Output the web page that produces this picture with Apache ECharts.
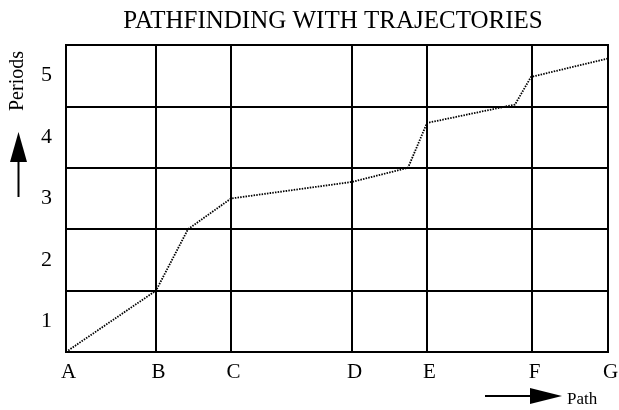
<!DOCTYPE html>
<html>
<head>
<meta charset="utf-8">
<script src="https://cdn.jsdelivr.net/npm/echarts@6/dist/echarts.min.js"></script>
<style>
  html, body { margin: 0; padding: 0; background: #fff; }
  #main { width: 619px; height: 410px; }
</style>
</head>
<body>
<div id="main"></div>
<script>
// path stations along the x axis (distance units)
const pathNames = ['A', 'B', 'C', 'D', 'E', 'F', 'G'];
const pathPos = [0, 90, 165, 286, 361, 466, 542];
const periodLabels = ['1', '2', '3', '4', '5'];
const periodCenters = [0.5, 1.5, 2.5, 3.5, 4.5];

// the dotted trajectory
const trajX = [0, 90, 122, 165, 286, 342, 361, 449, 465, 542];
const trajY = [0, 1.0, 2.0, 2.5, 2.77, 3.0, 3.73, 4.03, 4.48, 4.78];

const serif = "'Liberation Serif', 'Times New Roman', serif";

let chart = echarts.init(document.getElementById('main'));

const option = {
    animation: false,
    title: {
        text: 'PATHFINDING WITH TRAJECTORIES',
        left: 328,
        top: 4,
        textAlign: 'center',
        textStyle: {
            fontFamily: serif,
            fontWeight: 'normal',
            fontSize: 25,
            color: '#000'
        }
    },
    grid: {
        left: 66,
        top: 45,
        right: 11,
        bottom: 58,
        outerBoundsMode: 'none',
        show: true,
        borderColor: '#000',
        borderWidth: 2
    },
    xAxis: {
        type: 'value',
        min: 0,
        max: 542,
        axisLine: { show: false },
        axisTick: { show: false, customValues: pathPos },
        splitLine: { show: true, lineStyle: { color: '#000', width: 2 } },
        axisLabel: {
            customValues: pathPos,
            formatter: function (v) {
                return pathNames[pathPos.indexOf(v)];
            },
            margin: 10,
            padding: [0, 0, 0, 5],
            fontFamily: serif,
            fontSize: 21,
            color: '#000'
        }
    },
    yAxis: {
        type: 'value',
        min: 0,
        max: 5,
        interval: 1,
        axisLine: { show: false },
        axisTick: { show: false },
        splitLine: { show: true, lineStyle: { color: '#000', width: 2 } },
        axisLabel: {
            customValues: periodCenters,
            formatter: function (v) {
                return periodLabels[Math.floor(v)];
            },
            margin: 14,
            fontFamily: serif,
            fontSize: 22,
            color: '#000'
        }
    },
    series: [
        {
            type: 'line',
            data: trajX.map((x, i) => [x, trajY[i]]),
            symbol: 'none',
            lineStyle: { color: '#000', width: 1.8, type: [1.5, 1.2] },
            z: 5
        }
    ],
    graphic: [
        {
            type: 'text',
            x: 18,
            y: 81,
            rotation: Math.PI / 2,
            style: {
                text: 'Periods',
                font: '20px ' + serif,
                fill: '#000',
                textAlign: 'center',
                textVerticalAlign: 'middle'
            }
        },
        {
            type: 'polygon',
            shape: { points: [[10, 162], [27, 162], [18.5, 132]] },
            style: { fill: '#000' }
        },
        {
            type: 'line',
            shape: { x1: 18.5, y1: 161, x2: 18.5, y2: 197 },
            style: { stroke: '#000', lineWidth: 2 }
        },
        {
            type: 'line',
            shape: { x1: 485, y1: 396, x2: 532, y2: 396 },
            style: { stroke: '#000', lineWidth: 2 }
        },
        {
            type: 'polygon',
            shape: { points: [[530, 388], [530, 404], [562, 396]] },
            style: { fill: '#000' }
        },
        {
            type: 'text',
            x: 567,
            y: 400,
            style: {
                text: 'Path',
                font: '17px ' + serif,
                fill: '#000',
                textAlign: 'left',
                textVerticalAlign: 'middle'
            }
        }
    ]
};

chart.setOption(option);

window.addEventListener('resize', function () {
    chart.resize();
});
</script>
</body>
</html>
